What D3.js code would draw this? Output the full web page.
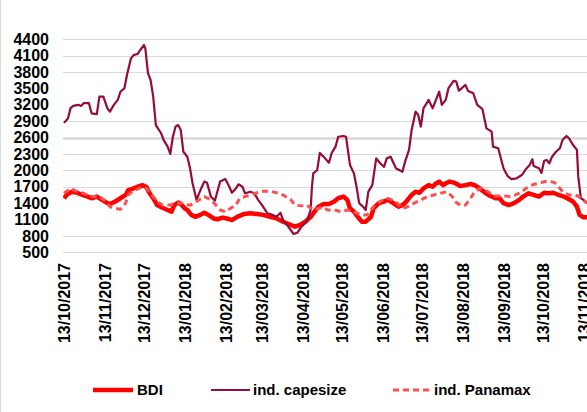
<!DOCTYPE html>
<html><head><meta charset="utf-8">
<script src="https://cdn.jsdelivr.net/npm/d3@7"></script>
<style>
html,body{margin:0;padding:0;background:#fff;}
svg{display:block;font-family:"Liberation Sans",Arial,sans-serif;}
</style></head>
<body><svg id="c" width="587" height="412"></svg>
<script>
const yTicks = [4400,4100,3800,3500,3200,2900,2600,2300,2000,1700,1400,1100,800,500];
const gridHidden = [3500,3200,1400,1100];
const xTickLabels = ["13/10/2017","13/11/2017","13/12/2017","13/01/2018","13/02/2018","13/03/2018","13/04/2018","13/05/2018","13/06/2018","13/07/2018","13/08/2018","13/09/2018","13/10/2018","13/11/2018"];
const seriesNames = ["BDI","ind. capesize","ind. Panamax"];

const capeDates = ["2017-10-13","2017-10-16","2017-10-18","2017-10-20","2017-10-24","2017-10-26","2017-10-28","2017-11-01","2017-11-03","2017-11-07","2017-11-09","2017-11-12","2017-11-15","2017-11-17","2017-11-20","2017-11-23","2017-11-25","2017-11-28","2017-11-30","2017-12-03","2017-12-05","2017-12-08","2017-12-10","2017-12-13","2017-12-14","2017-12-16","2017-12-18","2017-12-20","2017-12-22","2017-12-26","2017-12-28","2017-12-31","2018-01-02","2018-01-04","2018-01-06","2018-01-08","2018-01-10","2018-01-12","2018-01-15","2018-01-17","2018-01-19","2018-01-22","2018-01-25","2018-01-28","2018-01-30","2018-02-02","2018-02-05","2018-02-09","2018-02-13","2018-02-16","2018-02-18","2018-02-21","2018-02-23","2018-02-26","2018-02-28","2018-03-04","2018-03-07","2018-03-10","2018-03-13","2018-03-17","2018-03-21","2018-03-24","2018-03-27","2018-03-29","2018-04-02","2018-04-06","2018-04-09","2018-04-12","2018-04-16","2018-04-19","2018-04-20","2018-04-21","2018-04-24","2018-04-26","2018-04-30","2018-05-03","2018-05-05","2018-05-08","2018-05-10","2018-05-14","2018-05-16","2018-05-19","2018-05-22","2018-05-24","2018-05-26","2018-05-29","2018-05-31","2018-06-02","2018-06-05","2018-06-08","2018-06-11","2018-06-14","2018-06-16","2018-06-19","2018-06-23","2018-06-28","2018-06-30","2018-07-03","2018-07-05","2018-07-08","2018-07-10","2018-07-12","2018-07-14","2018-07-18","2018-07-21","2018-07-23","2018-07-26","2018-07-28","2018-07-31","2018-08-02","2018-08-06","2018-08-08","2018-08-10","2018-08-12","2018-08-15","2018-08-17","2018-08-21","2018-08-24","2018-08-28","2018-08-31","2018-09-04","2018-09-05","2018-09-09","2018-09-13","2018-09-16","2018-09-19","2018-09-23","2018-09-27","2018-09-30","2018-10-03","2018-10-05","2018-10-06","2018-10-10","2018-10-12","2018-10-14","2018-10-16","2018-10-18","2018-10-20","2018-10-23","2018-10-26","2018-10-28","2018-10-31","2018-11-02","2018-11-05","2018-11-08","2018-11-09","2018-11-11","2018-11-13","2018-11-15","2018-11-17"];
const capeValues = [2870,2950,3140,3180,3200,3180,3230,3230,3045,3030,3350,3350,3140,3075,3200,3290,3440,3500,3745,4050,4110,4130,4200,4295,4235,3780,3655,3350,2830,2680,2555,2435,2300,2615,2800,2830,2740,2340,2250,2050,1765,1460,1640,1795,1775,1520,1445,1795,1840,1700,1590,1670,1745,1700,1580,1610,1580,1460,1365,1215,1185,1150,1225,1090,970,835,860,970,1060,1275,1700,1945,2005,2320,2220,2140,2315,2435,2615,2630,2615,2100,1945,1700,1400,1335,1275,1610,1730,2220,2130,2065,2220,2250,2040,1975,2160,2375,2740,3075,3015,2800,3135,3290,3135,3260,3440,3200,3290,3500,3640,3625,3460,3500,3565,3455,3410,3200,3120,2770,2710,2435,2405,2040,1900,1840,1855,1915,2020,2100,2205,2080,2040,1955,2175,2190,2130,2250,2340,2405,2555,2630,2585,2465,2375,1885,1490,1460,1410,1380];

const bdiDates = ["2017-10-13","2017-10-15","2017-10-19","2017-10-23","2017-10-27","2017-10-31","2017-11-03","2017-11-07","2017-11-11","2017-11-15","2017-11-17","2017-11-21","2017-11-25","2017-11-29","2017-12-01","2017-12-05","2017-12-08","2017-12-12","2017-12-15","2017-12-17","2017-12-20","2017-12-23","2017-12-27","2017-12-31","2018-01-03","2018-01-05","2018-01-08","2018-01-10","2018-01-13","2018-01-15","2018-01-18","2018-01-21","2018-01-25","2018-01-28","2018-01-31","2018-02-04","2018-02-07","2018-02-11","2018-02-14","2018-02-18","2018-02-22","2018-02-27","2018-03-04","2018-03-09","2018-03-14","2018-03-19","2018-03-24","2018-03-29","2018-04-04","2018-04-07","2018-04-11","2018-04-15","2018-04-19","2018-04-22","2018-04-25","2018-04-29","2018-05-03","2018-05-07","2018-05-10","2018-05-14","2018-05-17","2018-05-19","2018-05-22","2018-05-25","2018-05-28","2018-05-31","2018-06-04","2018-06-06","2018-06-10","2018-06-14","2018-06-17","2018-06-21","2018-06-25","2018-06-28","2018-07-01","2018-07-05","2018-07-08","2018-07-11","2018-07-14","2018-07-18","2018-07-21","2018-07-23","2018-07-26","2018-07-29","2018-07-31","2018-08-03","2018-08-07","2018-08-11","2018-08-15","2018-08-19","2018-08-22","2018-08-26","2018-08-30","2018-09-03","2018-09-07","2018-09-10","2018-09-13","2018-09-17","2018-09-21","2018-09-25","2018-09-28","2018-10-02","2018-10-06","2018-10-10","2018-10-14","2018-10-17","2018-10-21","2018-10-25","2018-10-29","2018-11-02","2018-11-05","2018-11-08","2018-11-10","2018-11-13","2018-11-17"];
const bdiValues = [1490,1550,1610,1590,1550,1520,1490,1520,1460,1400,1385,1430,1490,1550,1640,1670,1700,1730,1690,1590,1490,1365,1315,1275,1245,1365,1410,1385,1305,1275,1185,1150,1185,1225,1185,1120,1105,1135,1120,1090,1150,1200,1215,1200,1185,1150,1120,1060,1000,970,1000,1060,1150,1245,1335,1385,1385,1430,1490,1520,1460,1305,1245,1150,1060,1060,1150,1305,1400,1430,1460,1400,1335,1365,1430,1550,1610,1590,1670,1730,1700,1750,1795,1730,1765,1795,1770,1715,1730,1750,1730,1670,1590,1530,1490,1490,1400,1365,1400,1460,1520,1580,1550,1520,1590,1580,1590,1550,1520,1470,1430,1335,1185,1140,1140];

const panDates = ["2017-10-13","2017-10-18","2017-10-23","2017-10-28","2017-11-02","2017-11-09","2017-11-14","2017-11-17","2017-11-21","2017-11-25","2017-11-29","2017-12-01","2017-12-04","2017-12-08","2017-12-12","2017-12-15","2017-12-19","2017-12-23","2017-12-27","2018-01-02","2018-01-07","2018-01-12","2018-01-17","2018-01-22","2018-01-28","2018-02-02","2018-02-05","2018-02-09","2018-02-13","2018-02-17","2018-02-21","2018-02-24","2018-02-28","2018-03-04","2018-03-09","2018-03-14","2018-03-19","2018-03-24","2018-03-29","2018-04-04","2018-04-07","2018-04-12","2018-04-16","2018-04-21","2018-04-25","2018-04-29","2018-05-02","2018-05-07","2018-05-12","2018-05-17","2018-05-22","2018-05-27","2018-06-01","2018-06-06","2018-06-11","2018-06-16","2018-06-20","2018-06-24","2018-06-28","2018-07-02","2018-07-07","2018-07-12","2018-07-17","2018-07-22","2018-07-27","2018-08-01","2018-08-05","2018-08-07","2018-08-11","2018-08-15","2018-08-19","2018-08-22","2018-08-26","2018-08-30","2018-09-03","2018-09-07","2018-09-10","2018-09-14","2018-09-18","2018-09-22","2018-09-26","2018-09-30","2018-10-03","2018-10-07","2018-10-11","2018-10-15","2018-10-19","2018-10-22","2018-10-25","2018-10-29","2018-11-02","2018-11-05","2018-11-09","2018-11-12","2018-11-14","2018-11-17"];
const panValues = [1580,1670,1610,1580,1520,1520,1430,1335,1305,1290,1400,1550,1610,1655,1700,1670,1550,1430,1365,1365,1400,1400,1360,1430,1520,1460,1385,1275,1245,1305,1365,1490,1520,1550,1590,1620,1620,1590,1550,1460,1365,1350,1365,1275,1305,1320,1275,1275,1245,1275,1245,1185,1185,1335,1430,1490,1460,1400,1305,1335,1400,1460,1520,1550,1580,1610,1520,1430,1365,1365,1490,1610,1670,1640,1580,1530,1530,1530,1520,1550,1590,1670,1715,1750,1775,1795,1795,1775,1700,1590,1550,1550,1530,1470,1430,1400];

(function(){
const svg = d3.select("#c");
const W = 587, H = 412;
const pL = 63, pR = 587, pT = 39.3, pB = 252.3;
const parse = d3.timeParse("%Y-%m-%d");
const parseLbl = d3.timeParse("%d/%m/%Y");

const x = d3.scaleTime().domain([parseLbl("13/10/2017"), parseLbl("13/11/2018")]).range([64, 583.5]);
const y = d3.scaleLinear().domain([500, 4400]).range([pB, pT]);

svg.append("line").attr("x1",0.5).attr("x2",0.5).attr("y1",0).attr("y2",H)
  .attr("stroke","#d9d9d9").attr("stroke-width",1);

svg.append("g").selectAll("line").data(yTicks.filter(v => !gridHidden.includes(v))).join("line")
  .attr("x1",pL).attr("x2",pR)
  .attr("y1",d=>Math.round(y(d))+0.5).attr("y2",d=>Math.round(y(d))+0.5)
  .attr("stroke", d => d===2600 ? "#d0d0d0" : "#d9d9d9")
  .attr("stroke-width", d => d===2600 ? 2.2 : 1);

const yAxis = d3.axisLeft(y).tickValues(yTicks).tickFormat(d3.format("d")).tickSize(0).tickPadding(0);
const gy = svg.append("g").attr("transform","translate(49,0)").call(yAxis);
gy.select(".domain").remove();
gy.selectAll("text").attr("font-size","16px").attr("font-weight","bold").attr("fill","#000")
  .attr("font-family","'Liberation Sans',Arial,sans-serif");

const xAxis = d3.axisBottom(x).tickValues(xTickLabels.map(parseLbl)).tickFormat(d3.timeFormat("%d/%m/%Y")).tickSize(0);
const gx = svg.append("g").attr("transform","translate(0,263)").call(xAxis);
gx.select(".domain").remove();
gx.selectAll("text")
  .attr("font-size","16px").attr("font-weight","bold").attr("fill","#000")
  .attr("font-family","'Liberation Sans',Arial,sans-serif")
  .attr("text-anchor","end").attr("transform","rotate(-90)")
  .attr("x",0).attr("y",0).attr("dy","0.36em");

svg.append("clipPath").attr("id","clip").append("rect")
  .attr("x",pL).attr("y",0).attr("width",pR-pL).attr("height",pB+10);

const line = d3.line().x(d=>x(d[0])).y(d=>y(d[1]));
const mk = (ds, vs) => ds.map((d,i)=>[parse(d), vs[i]]);
const plot = svg.append("g").attr("clip-path","url(#clip)");

const styles = [
  {data: mk(bdiDates,bdiValues), color:"#ff0000", w:4.5, dash:null},
  {data: mk(capeDates,capeValues), color:"#950b3c", w:2.2, dash:null},
  {data: mk(panDates,panValues), color:"#ff5050", w:3, dash:"6,4"}
];
styles.forEach(s => {
  plot.append("path").datum(s.data).attr("d",line).attr("fill","none")
    .attr("stroke",s.color).attr("stroke-width",s.w)
    .attr("stroke-linejoin","round")
    .attr("stroke-dasharray",s.dash);
});

const legX = [[93,133,137],[211,250,253],[393,432,434]];
const lg = svg.append("g");
seriesNames.forEach((n,i)=>{
  const s = styles[i];
  lg.append("line").attr("x1",legX[i][0]).attr("x2",legX[i][1]).attr("y1",390).attr("y2",390)
    .attr("stroke",s.color).attr("stroke-width",s.w).attr("stroke-dasharray",s.dash);
  lg.append("text").attr("x",legX[i][2]).attr("y",390).attr("dy","0.36em")
    .attr("font-size","15px").attr("font-weight","bold").attr("fill","#000").text(n);
});
})();
</script></body></html>
